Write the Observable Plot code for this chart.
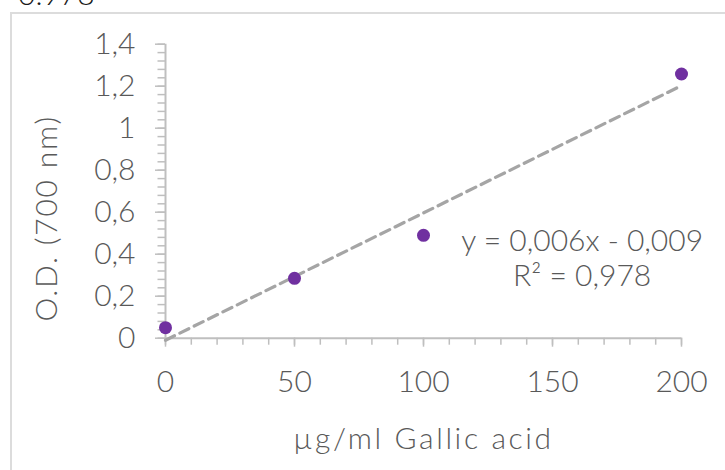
<!DOCTYPE html>
<html>
<head>
<meta charset="utf-8">
<script src="https://cdn.jsdelivr.net/npm/d3@7"></script>
<script src="https://cdn.jsdelivr.net/npm/@observablehq/plot@0.6"></script>
<style>
  html, body { margin: 0; padding: 0; background: #ffffff; overflow: hidden; }
  #wrap { position: relative; width: 725px; height: 470px; overflow: hidden; }
  #frame { position: absolute; left: 10px; top: 12px; width: 800px; height: 600px;
           border: 2px solid #dcdcdc; box-sizing: border-box; pointer-events: none; }
  #above { position: absolute; left: 18px; top: -21.6px; font: 300 30px/1 Lato, sans-serif; color: #1a1a1a; }
  #chart { position: absolute; left: 0; top: 0; }
  #chart svg text { font-weight: 300; }
</style>
</head>
<body>
<div id="wrap">
  <div id="above">0.978</div>
  <div id="chart"></div>
  <div id="frame"></div>
</div>
<script>
// Data
const concentrations = [0, 50, 100, 200];          // µg/ml Gallic acid
const absorbance = [0.05, 0.285, 0.49, 1.258];      // O.D. (700 nm)

// Axis ticks
const xTicks = [0, 50, 100, 150, 200];
const xMinorTicks = [0, 10, 20, 30, 40, 50, 60, 70, 80, 90, 100, 110, 120, 130, 140, 150, 160, 170, 180, 190, 200];
const yTicks = [0, 0.2, 0.4, 0.6, 0.8, 1, 1.2, 1.4];
const yMinorTicks = [0, 0.04, 0.08, 0.12, 0.16, 0.2, 0.24, 0.28, 0.32, 0.36, 0.4, 0.44, 0.48, 0.52, 0.56, 0.6,
  0.64, 0.68, 0.72, 0.76, 0.8, 0.84, 0.88, 0.92, 0.96, 1, 1.04, 1.08, 1.12, 1.16, 1.2, 1.24, 1.28, 1.32, 1.36, 1.4];

// Texts
const xTitle = "µg/ml Gallic acid";
const yTitle = "O.D. (700 nm)";
const equationText = "y = 0,006x - 0,009\nR² = 0,978";
const equationAnchor = { x: 161.5, y: 0.384 };

const data = concentrations.map((c, i) => ({ x: c, y: absorbance[i] }));
const comma = d => String(d).replace(".", ",");

const axisColor = "#bfbfbf";
const textColor = "#595959";
const font = "Lato, sans-serif";
const fs = 30;

const chart = Plot.plot({
  width: 725,
  height: 470,
  marginLeft: 165,
  marginRight: 44,
  marginTop: 43.7,
  marginBottom: 132.3,
  style: { background: "transparent", fontFamily: font, color: textColor },
  x: { domain: [0, 200] },
  y: { domain: [0, 1.4] },
  marks: [
    Plot.axisY(yMinorTicks, { tickSize: 7.5, tickFormat: () => "", stroke: axisColor, strokeWidth: 1.5, label: null, strokeOpacity: 1 }),
    Plot.axisY(yTicks, { tickSize: 10, tickPadding: 20, tickFormat: comma, stroke: axisColor, strokeWidth: 1.5,
      strokeOpacity: 1, fontSize: fs, fill: textColor, label: null }),
    Plot.axisX(xMinorTicks, { tickSize: 7, tickFormat: () => "", stroke: axisColor, strokeWidth: 1.5, label: null, strokeOpacity: 1 }),
    Plot.axisX(xTicks, { tickSize: 9, tickPadding: 23, tickFormat: comma, stroke: axisColor, strokeWidth: 1.5,
      strokeOpacity: 1, fontSize: fs, fill: textColor, label: null }),
    Plot.ruleX([0], { stroke: axisColor, strokeWidth: 2 }),
    Plot.ruleY([0], { stroke: axisColor, strokeWidth: 2 }),
    Plot.linearRegressionY(data, { x: "x", y: "y", ci: 0, stroke: "#a5a5a5", strokeWidth: 3.2, strokeDasharray: "10,6" }),
    Plot.dot(data, { x: "x", y: "y", r: 6.5, fill: "#7030a0", stroke: "none" }),
    Plot.text([equationText], { x: () => equationAnchor.x, y: () => equationAnchor.y, text: d => d, fontSize: fs,
      fill: textColor, lineHeight: 1.17, textAnchor: "middle" }),
    Plot.text([xTitle], { frameAnchor: "bottom", dy: 111, text: d => d, fontSize: fs, fill: textColor }),
    Plot.text([yTitle], { frameAnchor: "left", textAnchor: "middle", dx: -118, dy: 27, rotate: -90, text: d => d,
      fontSize: fs, fill: textColor })
  ]
});
document.getElementById("chart").appendChild(chart);

// Widen the axis titles a little (the original font is wider than Lato)
d3.select(chart).selectAll("text").each(function () {
  const t = this.textContent;
  if (t === xTitle) this.style.letterSpacing = "2.6px";
  if (t === yTitle) this.style.letterSpacing = "1.8px";
});
</script>
</body>
</html>
